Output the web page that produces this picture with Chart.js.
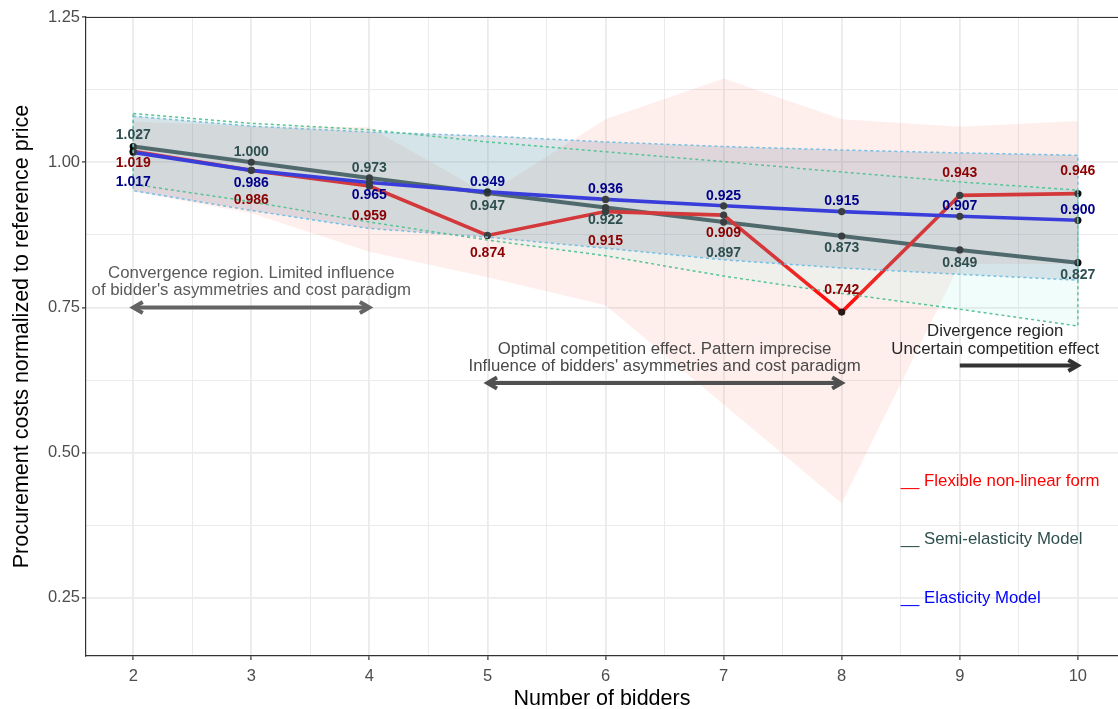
<!DOCTYPE html>
<html>
<head>
<meta charset="utf-8">
<script src="https://cdn.jsdelivr.net/npm/chart.js@4.4.1/dist/chart.umd.min.js"></script>
<style>
  html, body { margin: 0; padding: 0; background: #ffffff; overflow: hidden; }
  #wrap { width: 1118px; height: 709px; position: relative; overflow: hidden; }
</style>
</head>
<body>
<div id="wrap"><canvas id="chart" width="1122" height="709"></canvas></div>
<script>
// Number of bidders (x categories)
const bidders = [2, 3, 4, 5, 6, 7, 8, 9, 10];

// Fitted procurement cost curves
const flexible       = [1.019, 0.986, 0.959, 0.874, 0.915, 0.909, 0.742, 0.943, 0.946];
const semiElasticity = [1.027, 1.000, 0.973, 0.947, 0.922, 0.897, 0.873, 0.849, 0.827];
const elasticity     = [1.017, 0.986, 0.965, 0.949, 0.936, 0.925, 0.915, 0.907, 0.900];

// Confidence bands
const flexibleUpper = [1.070, 1.062, 1.060, 0.945, 1.074, 1.144, 1.074, 1.061, 1.071];
const flexibleLower = [0.949, 0.912, 0.846, 0.802, 0.754, 0.583, 0.413, 0.825, 0.825];
const semiUpper     = [1.084, 1.067, 1.056, 1.035, 1.018, 1.001, 0.983, 0.966, 0.952];
const semiLower     = [0.962, 0.932, 0.897, 0.866, 0.839, 0.804, 0.774, 0.747, 0.718];
const elastUpper    = [1.079, 1.062, 1.052, 1.045, 1.035, 1.027, 1.021, 1.016, 1.012];
const elastLower    = [0.951, 0.917, 0.886, 0.871, 0.852, 0.832, 0.818, 0.807, 0.797];

// Axis ticks
const xTickLabels = ['2', '3', '4', '5', '6', '7', '8', '9', '10'];
const yTickValues = [0.25, 0.50, 0.75, 1.00, 1.25];
const yTickLabels = ['0.25', '0.50', '0.75', '1.00', '1.25'];

// Vertical pixel offsets of the value labels (negative = above the point)
const flexLabelDy  = [12, 30, 30, 18, 30, 18, -22, -22, -22];
const semiLabelDy  = [-11, -10, -10, 13, 12.5, 31, 12.5, 13, 12.5];
const elastLabelDy = [30, 13, 13, -10, -10, -10, -10.5, -10, -10];

const FONT = '"Liberation Sans", Arial, Helvetica, sans-serif';

const pts = arr => bidders.map((b, i) => ({ x: b, y: arr[i] }));
const polygon = (up, lo) => {
  const u = pts(up), l = pts(lo).reverse();
  return [...u, ...l, u[0]];
};
// minor grid positions halfway between the major ones
const midpoints = arr => arr.slice(0, -1).map((v, i) => (v + arr[i + 1]) / 2);
const xGrid = [...bidders, ...midpoints(bidders)].sort((a, b) => a - b);
const yGrid = [...yTickValues, ...midpoints(yTickValues)].sort((a, b) => a - b);
const isMajorY = v => yTickValues.some(t => Math.abs(t - v) < 1e-9);

const band = (data, fill, bg, order) => ({
  data, fill, backgroundColor: bg, borderColor: 'rgba(0,0,0,0)', borderWidth: 0,
  pointRadius: 0, order
});
const outline = (data, color, order) => ({
  data, fill: false, borderColor: color, borderWidth: 1.5, borderDash: [3, 3],
  pointRadius: 0, order
});
const curve = (data, color, width, order) => ({
  data, fill: false, borderColor: color, borderWidth: width,
  pointRadius: 3.6, pointBackgroundColor: '#0a0a0a', pointBorderWidth: 0, order
});

const overlay = {
  id: 'overlay',
  afterDatasetsDraw(chart) {
    const { ctx, chartArea: a, scales: { x, y } } = chart;
    ctx.save();

    // top panel border
    ctx.strokeStyle = '#333333';
    ctx.lineWidth = 1.2;
    ctx.beginPath();
    ctx.moveTo(a.left, a.top + 0.5);
    ctx.lineTo(a.right, a.top + 0.5);
    ctx.stroke();

    // value labels
    ctx.textAlign = 'center';
    ctx.textBaseline = 'middle';
    ctx.font = 'bold 14px ' + FONT;
    const series = [
      [semiElasticity, '#2F4F4F', semiLabelDy],
      [flexible, '#8B0000', flexLabelDy],
      [elasticity, '#00008B', elastLabelDy]
    ];
    series.forEach(([vals, color, dy]) => {
      ctx.fillStyle = color;
      vals.forEach((v, i) => {
        ctx.fillText(v.toFixed(3), x.getPixelForValue(bidders[i]), y.getPixelForValue(v) + dy[i]);
      });
    });

    // region annotations
    ctx.font = '16.8px ' + FONT;
    const text = (str, xv, yv, color, align) => {
      ctx.fillStyle = color;
      ctx.textAlign = align || 'center';
      ctx.fillText(str, x.getPixelForValue(xv), y.getPixelForValue(yv));
    };
    const arrow = (x1, x2, yv, color, both) => {
      const px1 = x.getPixelForValue(x1), px2 = x.getPixelForValue(x2), py = y.getPixelForValue(yv);
      ctx.strokeStyle = color;
      ctx.lineWidth = 4;
      ctx.lineCap = 'butt';
      ctx.lineJoin = 'miter';
      ctx.beginPath();
      ctx.moveTo(px1 + (both ? 2 : 0), py);
      ctx.lineTo(px2 - 2, py);
      ctx.stroke();
      const head = (tx, dir) => {
        const len = 11, ang = Math.PI / 6;
        ctx.beginPath();
        ctx.moveTo(tx - dir * len * Math.cos(ang), py - len * Math.sin(ang));
        ctx.lineTo(tx, py);
        ctx.lineTo(tx - dir * len * Math.cos(ang), py + len * Math.sin(ang));
        ctx.stroke();
      };
      head(px2, 1);
      if (both) head(px1, -1);
    };

    text('Convergence region. Limited influence', 3, 0.809, '#5a5a5a');
    text("of bidder's asymmetries and cost paradigm", 3, 0.779, '#5a5a5a');
    arrow(2, 4, 0.75, '#646464', true);

    text('Optimal competition effect. Pattern imprecise', 6.5, 0.678, '#484848');
    text("Influence of bidders' asymmetries and cost paradigm", 6.5, 0.648, '#484848');
    arrow(5, 8, 0.62, '#505050', true);

    text('Divergence region', 9.3, 0.708, '#262626');
    text('Uncertain competition effect', 9.3, 0.678, '#262626');
    arrow(9, 10, 0.65, '#333333', false);

    // legend labels
    text('__ Flexible non-linear form', 8.5, 0.45, '#FF0000', 'left');
    text('__ Semi-elasticity Model', 8.5, 0.35, '#2F4F4F', 'left');
    text('__ Elasticity Model', 8.5, 0.25, '#0000FF', 'left');

    ctx.restore();
  }
};

new Chart(document.getElementById('chart'), {
  type: 'line',
  data: {
    datasets: [
      curve(pts(semiElasticity), '#2F4F4F', 4, 30),
      curve(pts(flexible), '#FF0000', 3.6, 29),
      curve(pts(elasticity), '#0A0AFF', 3.6, 28),
      band(pts(flexibleUpper), '+1', 'rgba(250,128,114,0.13)', 20),
      band(pts(flexibleLower), false, 'rgba(0,0,0,0)', 19),
      band(pts(elastUpper), '+1', 'rgba(100,115,150,0.20)', 18),
      band(pts(elastLower), false, 'rgba(0,0,0,0)', 17),
      band(pts(semiUpper), '+1', 'rgba(110,240,215,0.10)', 16),
      band(pts(semiLower), false, 'rgba(0,0,0,0)', 15),
      outline(polygon(elastUpper, elastLower), 'rgb(118,190,226)', 14),
      outline(polygon(semiUpper, semiLower), 'rgb(88,196,150)', 13)
    ]
  },
  options: {
    responsive: false,
    animation: false,
    events: [],
    layout: { padding: { top: 17, right: 0, left: 0, bottom: 0 } },
    plugins: { legend: { display: false }, tooltip: { enabled: false } },
    scales: {
      x: {
        type: 'linear',
        min: 1.6,
        max: 10.34,
        afterBuildTicks: s => { s.ticks = xGrid.map(v => ({ value: v })); },
        afterFit: s => { s.height = 53; },
        ticks: {
          autoSkip: false, maxRotation: 0, padding: 7,
          color: '#4D4D4D', font: { family: FONT, size: 16.5 },
          callback: v => { const i = bidders.indexOf(v); return i >= 0 ? xTickLabels[i] : ''; }
        },
        grid: {
          color: '#EBEBEB',
          lineWidth: c => (bidders.includes(c.tick.value) ? 1.8 : 1),
          tickColor: c => (bidders.includes(c.tick.value) ? '#333333' : 'rgba(0,0,0,0)'),
          tickLength: 4, tickWidth: 1.2
        },
        border: { display: true, color: '#333333', width: 1.2 },
        title: {
          display: true, text: 'Number of bidders', color: '#000000',
          font: { family: FONT, size: 21.5 }, padding: { top: 0, bottom: -3 }
        }
      },
      y: {
        type: 'linear',
        min: 0.15,
        max: 1.25,
        afterBuildTicks: s => { s.ticks = yGrid.map(v => ({ value: v })); },
        afterFit: s => { s.width = 86; },
        ticks: {
          autoSkip: false, padding: 2,
          color: '#4D4D4D', font: { family: FONT, size: 16.5 },
          callback: v => { const i = yTickValues.findIndex(t => Math.abs(t - v) < 1e-9); return i >= 0 ? yTickLabels[i] : ''; }
        },
        grid: {
          color: '#EBEBEB',
          lineWidth: c => (isMajorY(c.tick.value) ? 1.8 : 1),
          tickColor: c => (isMajorY(c.tick.value) ? '#333333' : 'rgba(0,0,0,0)'),
          tickLength: 4, tickWidth: 1.2
        },
        border: { display: true, color: '#333333', width: 1.2 },
        title: {
          display: true, text: 'Procurement costs normalized to reference price', color: '#000000',
          font: { family: FONT, size: 21.5 }, padding: { top: 9, bottom: 0 }
        }
      }
    }
  },
  plugins: [overlay]
});
</script>
</body>
</html>
